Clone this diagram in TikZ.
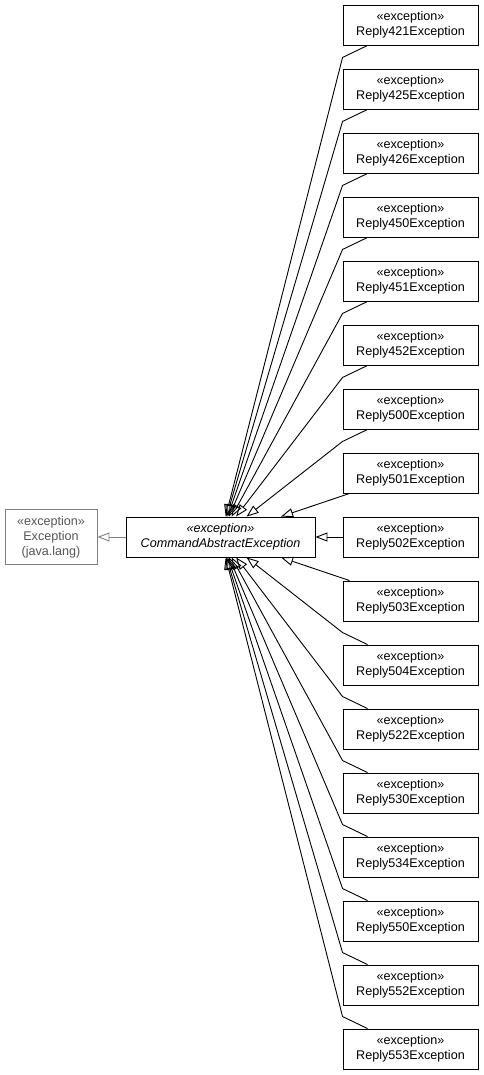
\documentclass[tikz,border=0pt]{standalone}
\usepackage{fontspec}
\setmainfont{Liberation Sans}
\usetikzlibrary{arrows.meta}
\definecolor{extgray}{HTML}{7F7F7F}
\definecolor{exttext}{HTML}{555555}
\tikzset{
  cls/.style={draw=black, line width=0.9pt, rectangle, inner sep=0pt, align=center,
    minimum width=135pt, minimum height=40pt, font=\fontsize{12.6}{15}\selectfont},
  abscls/.style={cls, minimum width=189pt, font=\fontsize{12.6}{15}\selectfont\itshape},
  extcls/.style={cls, draw=extgray, text=exttext, minimum width=92pt, minimum height=55pt},
  gen/.style={line width=0.9pt, -{Triangle[open,length=12pt,width=9pt]}},
  extgen/.style={gen, draw=extgray}
}
\begin{document}
\begin{tikzpicture}[x=1pt,y=-1pt]
\useasboundingbox (0,0) rectangle (484,1075);
\node[extcls] (exc) at (51,537) {«exception»\\Exception\\(java.lang)};
\node[abscls] (cae) at (220.5,537) {«exception»\\CommandAbstractException};
\foreach \n [count=\k from 0] in {421,425,426,450,451,452,500,501,502,503,504,522,530,534,550,552,553} {
  \node[cls] (r\n) at (410.5,{25+64*\k}) {«exception»\\Reply\n Exception};
}
\draw[extgen] (cae) -- (exc);
% upper boxes with bends
\foreach \n in {421,425,426,450,451,452,500} {
  \draw[gen] ([xshift=25pt]r\n.south west) -- ++(-25,12) -- (cae);
}
\draw[gen] ([xshift=7pt]r501.south west) -- (cae);
\draw[gen] (r502) -- (cae);
\draw[gen] ([xshift=7pt]r503.north west) -- (cae);
\foreach \n in {504,522,530,534,550,552,553} {
  \draw[gen] ([xshift=25pt]r\n.north west) -- ++(-25,-12) -- (cae);
}
\end{tikzpicture}
\end{document}
